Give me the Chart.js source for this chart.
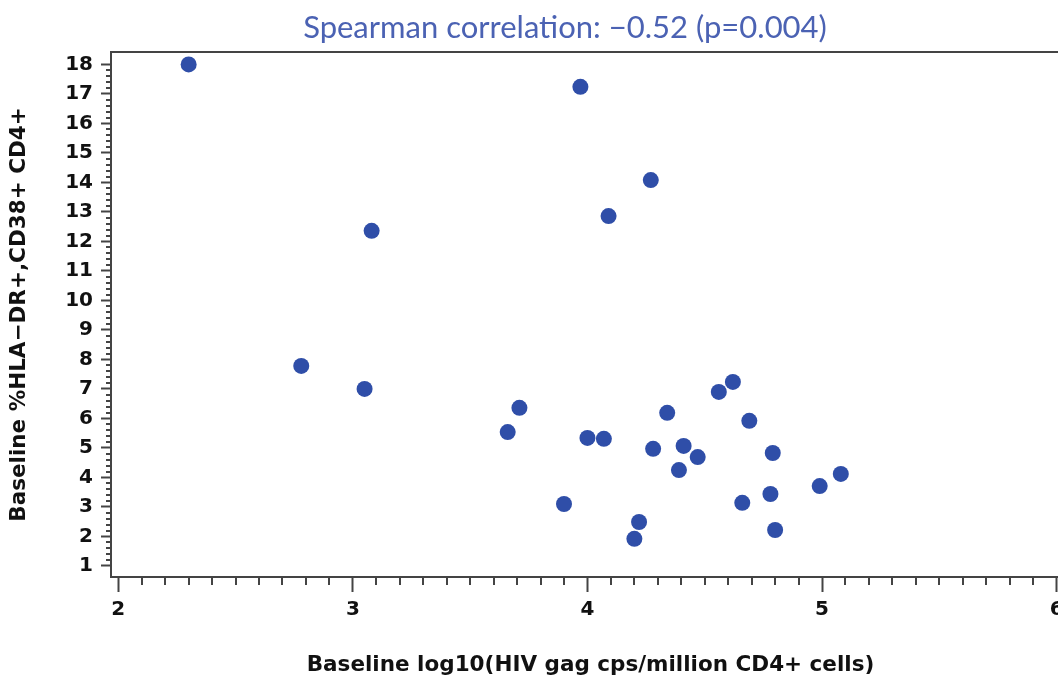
<!DOCTYPE html>
<html>
<head>
<meta charset="utf-8">
<script src="https://cdn.jsdelivr.net/npm/chart.js@4.4.0/dist/chart.umd.min.js"></script>
<style>
  html, body { margin: 0; padding: 0; background: #fff; overflow: hidden; }
  #wrap { width: 1058px; height: 682px; overflow: hidden; }
  canvas { display: block; }
</style>
</head>
<body>
<div id="wrap"><canvas id="scatter" width="1082" height="682"></canvas></div>
<script>
// Baseline log10(HIV gag cps/million CD4+ cells)
const viralLoad = [2.30, 3.97, 4.27, 4.09, 3.08, 2.78, 3.05, 3.71, 3.66, 4.00,
                   4.07, 4.34, 4.28, 4.41, 4.47, 4.39, 4.56, 4.62, 4.69, 4.79,
                   3.90, 4.22, 4.20, 4.66, 4.78, 4.80, 4.99, 5.08];
// Baseline %HLA-DR+,CD38+ CD4+
const activated = [18.0, 17.24, 14.08, 12.86, 12.36, 7.78, 7.00, 6.36, 5.54, 5.34,
                   5.31, 6.19, 4.97, 5.07, 4.69, 4.25, 6.90, 7.24, 5.92, 4.83,
                   3.10, 2.49, 1.92, 3.14, 3.44, 2.22, 3.71, 4.12];

const titleText = 'Spearman correlation: \u22120.52 (p=0.004)';
const xTitle = 'Baseline log10(HIV gag cps/million CD4+ cells)';
const yTitle = 'Baseline %HLA\u2212DR+,CD38+ CD4+';

const points = viralLoad.map((v, i) => ({ x: v, y: activated[i] }));

const axisColor = '#444';
const tickFont = { family: 'DejaVu Sans', size: 20, weight: 'bold' };
const axisTitleFont = { family: 'DejaVu Sans', size: 21.5, weight: 'bold' };

// small ticks between the labelled ones
const minorTicks = {
    id: 'minorTicks',
    afterDraw(chart) {
        const { ctx, chartArea, scales: { x, y } } = chart;
        ctx.save();
        ctx.strokeStyle = axisColor;
        ctx.lineWidth = 2;
        ctx.beginPath();
        for (let i = 20; i <= 61; i++) {
            if (i % 10 === 0) continue;
            const px = Math.round(x.getPixelForValue(i / 10));
            ctx.moveTo(px, chartArea.bottom);
            ctx.lineTo(px, chartArea.bottom + 8);
        }
        for (let i = 5; i <= 90; i++) {
            if (i % 5 === 0) continue;
            const py = Math.round(y.getPixelForValue(i / 5));
            ctx.moveTo(chartArea.left - 5, py);
            ctx.lineTo(chartArea.left, py);
        }
        ctx.stroke();
        ctx.restore();
    }
};

new Chart(document.getElementById('scatter'), {
    type: 'scatter',
    data: {
        datasets: [{
            data: points,
            backgroundColor: '#2f4ea8',
            borderWidth: 0,
            pointRadius: 8,
            pointHoverRadius: 8
        }]
    },
    options: {
        responsive: false,
        animation: false,
        layout: { padding: { left: 60, right: 12, top: 0, bottom: 0 } },
        plugins: {
            legend: { display: false },
            tooltip: { enabled: false },
            title: {
                display: true,
                text: titleText,
                color: '#4b62b3',
                font: { family: 'Lato', size: 31, weight: 'normal', lineHeight: 1.2 },
                padding: { top: 9, bottom: 5.8 }
            }
        },
        scales: {
            x: {
                type: 'linear',
                position: 'bottom',
                min: 1.969,
                max: 6.057,
                afterFit: s => { s.height = 105; },
                grid: { drawOnChartArea: false, tickLength: 15, tickColor: axisColor, tickWidth: 2 },
                border: { color: axisColor, width: 2 },
                ticks: {
                    stepSize: 1,
                    includeBounds: false,
                    autoSkip: false,
                    maxRotation: 0,
                    padding: 6,
                    color: '#111',
                    font: tickFont
                },
                title: {
                    display: true,
                    text: xTitle,
                    color: '#111',
                    font: axisTitleFont,
                    padding: { top: 0, bottom: 4 }
                }
            },
            xTop: {
                type: 'linear',
                position: 'top',
                min: 1.969,
                max: 6.057,
                afterFit: s => { s.height = 0; },
                grid: { drawOnChartArea: false, drawTicks: false },
                border: { color: axisColor, width: 2 },
                ticks: { display: false }
            },
            y: {
                type: 'linear',
                position: 'left',
                min: 0.627,
                max: 18.42,
                afterFit: s => { s.width = 51; },
                grid: { drawOnChartArea: false, tickLength: 10, tickColor: axisColor, tickWidth: 2 },
                border: { color: axisColor, width: 2 },
                ticks: {
                    stepSize: 1,
                    includeBounds: false,
                    autoSkip: false,
                    padding: 8,
                    color: '#111',
                    font: tickFont
                },
                title: {
                    display: true,
                    text: yTitle,
                    color: '#111',
                    font: axisTitleFont,
                    // axis box starts at x=60, pull the title back to the left edge
                    padding: { top: -53, bottom: 0 }
                }
            }
        }
    },
    plugins: [minorTicks]
});
</script>
</body>
</html>
